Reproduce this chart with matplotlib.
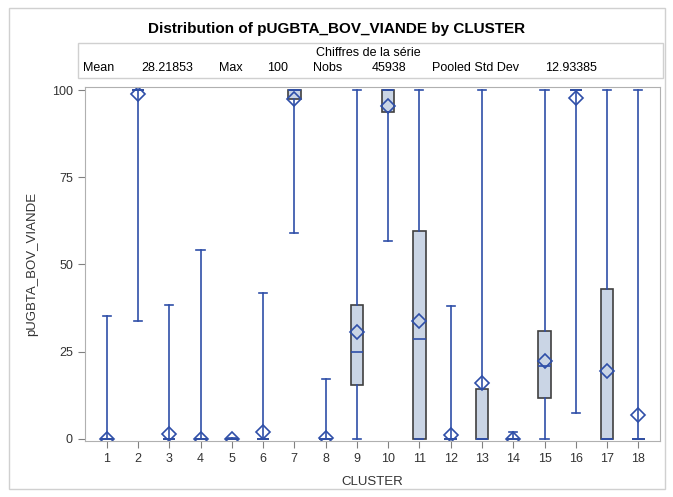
import matplotlib
matplotlib.use("Agg")
import matplotlib.pyplot as plt
from matplotlib.patches import Rectangle

plt.rcParams['font.family'] = ['Liberation Sans', 'DejaVu Sans']

# per-cluster statistics
clusters = list(range(1, 19))
whislo = [0, 33.8, 0, 0, 0, 0, 59.0, 0, 0, 56.8, 0, 0, 0, 0, 0, 7.4, 0, 0]
q1 = [0, 100, 0, 0, 0, 0, 97.4, 0, 15.5, 93.8, 0, 0, 0, 0, 11.8, 100, 0, 0]
med = [0, 100, 0, 0, 0, 0, 100, 0, 25.0, 100, 28.7, 0, 0, 0, 20.9, 100, 0, 0]
q3 = [0, 100, 0, 0, 0, 0, 100, 0, 38.3, 100, 59.7, 0, 14.4, 0, 30.8, 100, 42.9, 0]
whishi = [35.3, 100, 38.3, 54.0, 0.3, 41.8, 100, 17.0, 100, 100, 100, 38.1, 100, 1.8, 100, 100, 100, 100]
means = [0, 98.8, 1.5, 0, 0, 1.8, 97.5, 0.3, 30.5, 95.4, 33.9, 1.2, 16.0, 0, 22.2, 97.6, 19.5, 6.8]

stat_labels = ["Mean", "28.21853", "Max", "100", "Nobs", "45938", "Pooled Std Dev", "12.93385"]

BLUE = "#2F4FA8"
FILL = "#CAD5E5"

fig = plt.figure(figsize=(6.73, 4.97), dpi=100)
fig.patches.append(Rectangle((0.014, 0.016), 0.974, 0.968, transform=fig.transFigure,
                             fill=False, edgecolor="#D0D0D0", linewidth=1))

fig.text(0.5, 0.942, "Distribution of pUGBTA_BOV_VIANDE by CLUSTER",
         ha="center", va="center", fontsize=11, fontweight="bold")

# stats inset
fig.patches.append(Rectangle((0.116, 0.843), 0.869, 0.070, transform=fig.transFigure,
                             fill=False, edgecolor="#D0D0D0", linewidth=1))
fig.text(0.548, 0.893, "Chiffres de la série", ha="center", va="center", fontsize=9)
xs = [0.146, 0.248, 0.343, 0.412, 0.487, 0.578, 0.707, 0.848]
for x, s in zip(xs, stat_labels):
    fig.text(x, 0.863, s, ha="center", va="center", fontsize=9)

ax = fig.add_axes([0.126, 0.113, 0.855, 0.712])

stats = []
for i in range(len(clusters)):
    stats.append(dict(whislo=whislo[i], q1=q1[i], med=med[i], q3=q3[i],
                      whishi=whishi[i], mean=means[i], fliers=[], label=str(clusters[i])))

ax.bxp(stats, positions=clusters, widths=0.4, patch_artist=True, showmeans=True,
       boxprops=dict(facecolor=FILL, edgecolor="#404040", linewidth=1.2),
       medianprops=dict(color=BLUE, linewidth=1.2),
       whiskerprops=dict(color=BLUE, linewidth=1.2),
       capprops=dict(color=BLUE, linewidth=1.2),
       capwidths=0.26,
       meanprops=dict(marker="D", markersize=7, markerfacecolor="none",
                      markeredgecolor=BLUE, markeredgewidth=1.2))

ax.set_xlim(0.3, 18.7)
ax.set_ylim(-0.6, 100.9)
ax.set_yticks([0, 25, 50, 75, 100])
ax.set_xticks(clusters)
ax.set_xticklabels([str(c) for c in clusters])
for s in ax.spines.values():
    s.set_color("#B0B0B0")
ax.tick_params(colors="#808080", labelcolor="#333333", labelsize=9, length=5)
ax.set_xlabel("CLUSTER", fontsize=9.5, color="#333333", labelpad=8)
ax.set_ylabel("pUGBTA_BOV_VIANDE", fontsize=9.5, color="#333333", labelpad=10)

fig.savefig("out.png", dpi=100)
